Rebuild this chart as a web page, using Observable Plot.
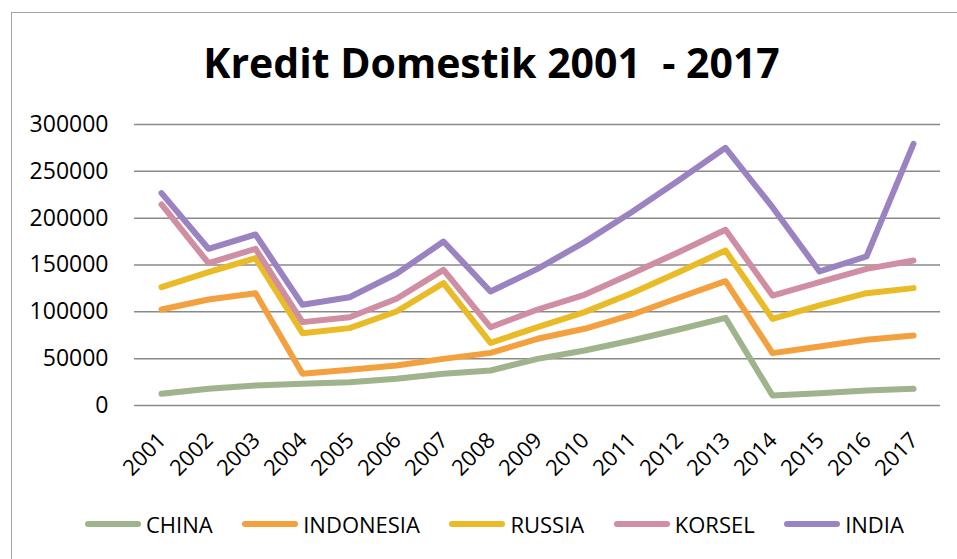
<!DOCTYPE html>
<html>
<head>
<meta charset="utf-8">
<script src="https://cdn.jsdelivr.net/npm/d3@7"></script>
<script src="https://cdn.jsdelivr.net/npm/@observablehq/plot@0.6"></script>
<style>
  html, body { margin: 0; padding: 0; background: #fff; }
  body { width: 957px; height: 559px; position: relative; overflow: hidden; font-family: "Open Sans", sans-serif; }
  #frame { position: absolute; left: 11px; top: 12px; width: 1000px; height: 600px; border: 1.5px solid #a3a3a3; box-sizing: border-box; z-index: 3; pointer-events: none; }
  #title { position: absolute; left: 0; width: 983px; top: 42px; text-align: center; font-size: 41px; line-height: 1; font-weight: 700; white-space: pre; color: #000; z-index: 2; }
  #chart { position: absolute; left: 0; top: 0; z-index: 1; }
  #legend { position: absolute; left: 85px; top: 509px; height: 30px; display: flex; align-items: center; z-index: 2; font-size: 22px; color: #000; }
  .item { display: flex; align-items: center; margin-right: 29.5px; }
  .sw { width: 56px; height: 6.5px; border-radius: 4px; margin-right: 5px; }
</style>
</head>
<body>
<div id="frame"></div>
<div id="title"></div>
<div id="chart"></div>
<div id="legend"></div>
<script>
const titleText = "Kredit Domestik 2001  - 2017";
const years = ["2001","2002","2003","2004","2005","2006","2007","2008","2009","2010","2011","2012","2013","2014","2015","2016","2017"];
const yTicks = [0, 50000, 100000, 150000, 200000, 250000, 300000];
const seriesNames = ["CHINA", "INDONESIA", "RUSSIA", "KORSEL", "INDIA"];
const colors = ["#9fb48d", "#f3a13f", "#e8bb27", "#cf8ea2", "#9a83c0"];

const china     = [12500, 17800, 21400, 23100, 24900, 28500, 33800, 37400, 49800, 58700, 69400, 81100, 93600, 10700, 13200, 16000, 17800];
const indonesia = [102500, 113200, 119900, 33800, 38100, 42700, 49800, 56200, 71200, 81900, 96800, 115000, 132700, 55900, 63000, 70100, 74700];
const russia    = [126300, 142300, 157300, 77200, 82600, 100400, 130600, 66900, 83600, 99700, 119900, 142300, 165500, 92500, 106800, 119900, 125300];
const korsel    = [214600, 151900, 167300, 89000, 94300, 113900, 144800, 83600, 102500, 118200, 140600, 163700, 187600, 117400, 131700, 145900, 154800];
const india     = [226700, 167300, 182600, 107500, 115600, 140600, 175100, 121700, 145900, 174400, 206400, 240200, 275100, 211700, 143100, 159100, 279400];

const seriesValues = [china, indonesia, russia, korsel, india];
const data = [];
seriesNames.forEach((name, i) => {
  years.forEach((yr, j) => data.push({series: name, year: yr, value: seriesValues[i][j]}));
});

document.getElementById("title").textContent = titleText;

const chart = Plot.plot({
  width: 957,
  height: 490,
  marginLeft: 134,
  marginRight: 17,
  marginTop: 124,
  marginBottom: 85,
  style: { fontFamily: "Open Sans", color: "#000", background: "transparent", overflow: "visible" },
  x: { type: "point", domain: years, padding: 0.5, label: null },
  y: { domain: [0, 300000], label: null },
  color: { domain: seriesNames, range: colors },
  marks: [
    Plot.ruleY(yTicks, { stroke: "#8a8a8a", strokeWidth: 1.5 }),
    Plot.axisY({ ticks: yTicks, tickSize: 0, tickPadding: 26, tickFormat: d => String(d), fontSize: 23, fill: "#000", label: null }),
    Plot.axisX({ tickSize: 0, tickRotate: -45, tickPadding: 31, fontSize: 22, fill: "#000", dx: 1, label: null }),
    Plot.line(data, { x: "year", y: "value", z: "series", stroke: "series", strokeWidth: 6, strokeLinejoin: "round", strokeLinecap: "round" })
  ]
});
document.getElementById("chart").appendChild(chart);

const legend = document.getElementById("legend");
seriesNames.forEach((name, i) => {
  const item = document.createElement("div");
  item.className = "item";
  const sw = document.createElement("div");
  sw.className = "sw";
  sw.style.background = colors[i];
  const label = document.createElement("span");
  label.textContent = name;
  item.appendChild(sw);
  item.appendChild(label);
  legend.appendChild(item);
});
</script>
</body>
</html>
